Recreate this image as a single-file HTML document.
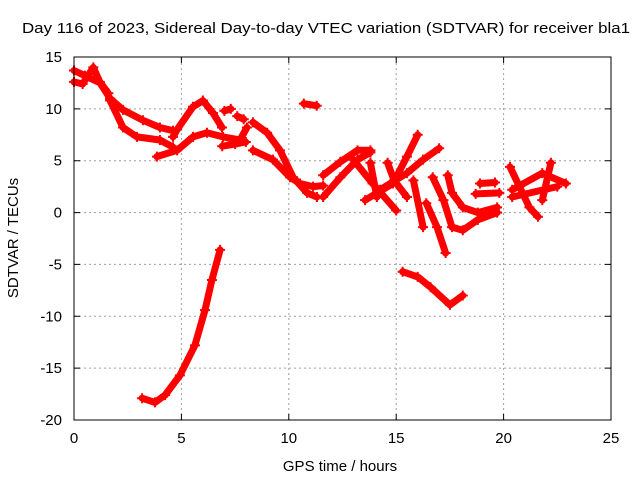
<!DOCTYPE html>
<html><head><meta charset="utf-8">
<style>
html,body{margin:0;padding:0;background:#fff;}
svg text{font-family:"Liberation Sans",sans-serif;font-size:15px;fill:#000;}
</style></head>
<body>
<svg id="chart" width="640" height="480" viewBox="0 0 640 480" xmlns="http://www.w3.org/2000/svg">
<rect width="640" height="480" fill="#fff"/>
<text x="22" y="33" textLength="608" lengthAdjust="spacingAndGlyphs">Day 116 of 2023, Sidereal Day-to-day VTEC variation (SDTVAR) for receiver bla1</text>
<g id="grid"></g>
<g id="series"></g>
<rect x="74" y="57" width="537" height="363" fill="none" stroke="#000" stroke-width="1"/>
<g id="axes"></g>
<text x="340" y="471" text-anchor="middle">GPS time / hours</text>
<text transform="translate(18,238) rotate(-90)" text-anchor="middle">SDTVAR / TECUs</text>
</svg>
<script>
const xTicks = [0,5,10,15,20,25];
const yTicks = [15,10,5,0,-5,-10,-15,-20];
const tracks = [
 [[0,13.7],[0.51,13.2],[1.21,12.5],[1.68,11.0],[2.28,9.9],[3.21,8.9],[4.0,8.2],[4.61,7.9]],
 [[0,12.6],[0.4,12.4],[0.9,14.0],[1.2,12.6],[1.6,11.5]],
 [[1.68,10.8],[2.28,8.2],[2.93,7.3],[4.0,7.0],[4.61,6.3]],
 [[4.61,7.3],[4.8,8.0],[5.54,10.2],[6.0,10.8],[6.47,9.6],[6.89,8.2]],
 [[3.86,5.4],[4.8,6.0],[5.54,7.3],[6.19,7.7],[6.94,7.3],[7.73,7.0],[8.05,8.2]],
 [[6.9,6.4],[7.5,6.6],[8.0,6.8]],
 [[7.0,9.8],[7.3,10.0]],
 [[7.6,9.3],[7.9,9.0]],
 [[10.7,10.5],[11.3,10.3]],
 [[8.33,8.7],[8.99,7.7],[9.59,6.0],[10.2,3.4],[10.85,1.9],[11.31,1.5]],
 [[8.33,6.0],[9.26,5.1],[10.06,3.4],[10.52,2.8],[11.13,2.5],[11.6,2.6]],
 [[11.6,1.5],[12.4,3.4],[13.2,5.1],[13.8,5.8]],
 [[11.6,3.6],[12.4,4.9],[13.2,6.0],[13.8,6.0]],
 [[13.0,5.1],[13.9,2.8],[15.0,0.2]],
 [[13.8,4.8],[14.1,1.5]],
 [[14.6,4.8],[14.9,3.1],[15.5,1.5]],
 [[13.55,1.2],[14.85,2.8],[15.5,5.4],[16.0,7.5]],
 [[14.25,2.2],[15.5,3.8],[16.25,5.1],[17.0,6.2]],
 [[15.8,3.1],[16.25,-1.4]],
 [[16.4,0.9],[16.9,-1.4],[17.3,-3.9]],
 [[16.7,3.4],[17.2,1.2],[17.6,-1.4],[18.1,-1.7],[18.8,-0.7],[19.7,0]],
 [[17.4,3.6],[17.6,1.9],[18.1,0.5],[18.8,0],[19.7,0.5]],
 [[18.9,2.8],[19.6,2.9]],
 [[18.7,1.8],[19.8,1.9]],
 [[20.3,4.4],[21.2,0.5],[21.6,-0.4]],
 [[20.4,2.2],[21.8,3.8],[22.9,2.8]],
 [[20.4,1.5],[22.5,2.5]],
 [[22.2,4.8],[21.8,1.2]],
 [[15.3,-5.7],[16.0,-6.2],[16.6,-7.2],[17.5,-8.9],[18.1,-8.0]],
 [[3.17,-17.9],[3.77,-18.3],[4.24,-17.6],[4.93,-15.7],[5.63,-12.8],[6.1,-9.4],[6.42,-6.5],[6.8,-3.6]]
];
const X0=74,X1=611,Y0=420,Y1=57;
function sx(h){return X0+(h-0)/(25-0)*(X1-X0);}
function sy(v){return Y0-(v-(-20))/(15-(-20))*(Y0-Y1);}
const NS="http://www.w3.org/2000/svg";
const grid=document.getElementById('grid'), axes=document.getElementById('axes'), series=document.getElementById('series');
function mk(tag,attrs,parent){const e=document.createElementNS(NS,tag);for(const k in attrs)e.setAttribute(k,attrs[k]);parent.appendChild(e);return e;}
xTicks.forEach(t=>{
 const x=sx(t);
 if(t>0&&t<25){const g=mk('line',{x1:x,y1:Y0,x2:x,y2:Y1,stroke:'#a0a0a0','stroke-dasharray':'2,3'},grid);
 
 }
 const tk=mk('path',{d:`M${x},${Y0}v-6M${x},${Y1}v6`,stroke:'#000'},axes);
 
 
 const tx=mk('text',{x:x,y:443,'text-anchor':'middle'},axes);tx.textContent=t;
 
 
});
yTicks.forEach(t=>{
 const y=sy(t);
 if(t<15&&t>-20){const g=mk('line',{x1:X0,y1:y,x2:X1,y2:y,stroke:'#a0a0a0','stroke-dasharray':'2,3'},grid);
 
 }
 const tk=mk('path',{d:`M${X0},${y}h6M${X1},${y}h-6`,stroke:'#000'},axes);
 
 
 const tx=mk('text',{x:62,y:y+5,'text-anchor':'end'},axes);tx.textContent=t;
 
 
});
tracks.forEach((tr)=>{
 const pts=tr.map(p=>sx(p[0]).toFixed(1)+','+sy(p[1]).toFixed(1)).join(' ');
 const pl=mk('polyline',{points:pts,fill:'none',stroke:'#ff0000','stroke-width':7,'stroke-linejoin':'round','stroke-linecap':'round'},series);
 
 
 tr.forEach(p=>{
  const x=sx(p[0]),y=sy(p[1]);
  const m=mk('path',{d:`M${x-5},${y}h10M${x},${y-5}v10`,stroke:'#ff0000','stroke-width':2},series);
  
  
 });
});
</script>
</body></html>
